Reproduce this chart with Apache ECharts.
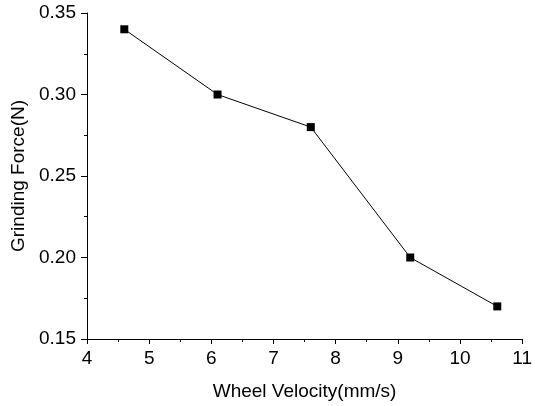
<!DOCTYPE html>
<html>
<head>
<meta charset="utf-8">
<script src="https://cdn.jsdelivr.net/npm/echarts@6/dist/echarts.min.js"></script>
<style>html,body{margin:0;padding:0;background:#fff;}#c{width:535px;height:406px;}</style>
</head>
<body>
<div id="c"></div>
<script>
const xValues = [4.6, 6.1, 7.6, 9.2, 10.6];
const yValues = [0.34, 0.30, 0.28, 0.20, 0.17];
const xTitle = 'Wheel Velocity(mm/s)';
const yTitle = 'Grinding Force(N)';

const font = 'Liberation Sans, Arial, sans-serif';
const chart = echarts.init(document.getElementById('c'), null, {renderer: 'canvas'});
chart.setOption({
  animation: false,
  backgroundColor: '#fff',
  grid: {left: 87, right: 8, top: 13, bottom: 67, containLabel: false},
  xAxis: {
    type: 'value', min: 4, max: 11, interval: 1,
    name: xTitle, nameLocation: 'middle', nameGap: 43,
    nameTextStyle: {fontFamily: font, fontSize: 19, color: '#000'},
    axisLine: {show: true, onZero: false, lineStyle: {color: '#000', width: 1}},
    axisTick: {show: true, inside: false, length: 5, lineStyle: {color: '#000'}},
    minorTick: {show: true, splitNumber: 2, length: 3, lineStyle: {color: '#000'}},
    axisLabel: {fontFamily: font, fontSize: 19, color: '#000', margin: 10},
    splitLine: {show: false}
  },
  yAxis: {
    type: 'value', min: 0.15, max: 0.35, interval: 0.05,
    name: yTitle, nameLocation: 'middle', nameGap: 54, nameRotate: 90,
    nameTextStyle: {fontFamily: font, fontSize: 19, color: '#000'},
    axisLine: {show: true, onZero: false, lineStyle: {color: '#000', width: 1}},
    axisTick: {show: true, inside: false, length: 6, lineStyle: {color: '#000'}},
    minorTick: {show: true, splitNumber: 2, length: 3, lineStyle: {color: '#000'}},
    axisLabel: {fontFamily: font, fontSize: 19, color: '#000', margin: 11,
      formatter: v => v.toFixed(2)},
    splitLine: {show: false}
  },
  series: [{
    type: 'line',
    data: xValues.map((x, i) => [x, yValues[i]]),
    symbol: 'rect', symbolSize: 8,
    itemStyle: {color: '#000'},
    lineStyle: {color: '#000', width: 1}
  }]
});
</script>
</body>
</html>
